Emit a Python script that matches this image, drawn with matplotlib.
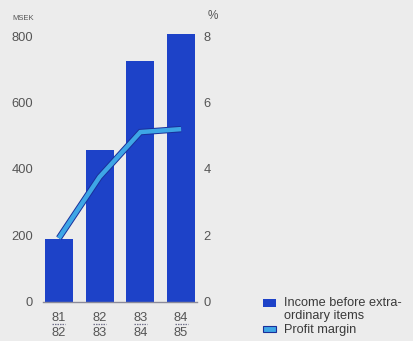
import matplotlib
matplotlib.use("Agg")
import matplotlib.pyplot as plt
import matplotlib.patheffects as pe
from matplotlib.patches import Rectangle
from matplotlib.transforms import offset_copy

plt.rcParams["font.family"] = ["Liberation Sans", "DejaVu Sans"]

# Fiscal years and results
years_top = ["81", "82", "83", "84"]
years_bottom = ["82", "83", "84", "85"]
income_msek = [190, 457, 725, 806]        # Income before extraordinary items, MSEK
profit_margin = [1.92, 3.76, 5.11, 5.20]  # Profit margin, %

left_ticks = [0, 200, 400, 600, 800]
right_ticks = [0, 2, 4, 6, 8]

BG = "#ececec"
BAR = "#1d42c8"
LINE = "#3ea6e6"
EDGE = "#1a2f9a"
TXT = "#555555"

fig = plt.figure(figsize=(4.13, 3.41), dpi=100, facecolor=BG)
ax = fig.add_axes([0.104, 0.1144, 0.373, 0.780])
ax.set_facecolor(BG)

x = list(range(len(income_msek)))
ax.bar(x, income_msek, width=0.69, color=BAR, clip_on=False, zorder=2)
ax.set_xlim(-0.39, 3.39)
ax.set_ylim(0, 800)
ax.set_yticks(left_ticks)
ax.set_yticklabels([str(t) for t in left_ticks])
ax.tick_params(axis="y", length=0, pad=7, labelsize=9.3, labelcolor=TXT)
ax.set_xticks([])
for s in ["top", "right", "left"]:
    ax.spines[s].set_visible(False)
ax.spines["bottom"].set_color("#8a8a9a")
ax.spines["bottom"].set_linewidth(1.0)

# Two-line fiscal year labels with a rule between
rule_tf = offset_copy(ax.transData, fig=fig, x=0, y=-15.8, units="points")
for xi, a, b in zip(x, years_top, years_bottom):
    ax.annotate(a, (xi, 0), xytext=(0, -11.8), textcoords="offset points",
                ha="center", va="center", fontsize=9.3, color=TXT, annotation_clip=False)
    ax.annotate(b, (xi, 0), xytext=(0, -22.3), textcoords="offset points",
                ha="center", va="center", fontsize=9.3, color=TXT, annotation_clip=False)
    ax.plot([xi - 0.16, xi + 0.16], [0, 0], transform=rule_tf, clip_on=False,
            color="#70708a", lw=0.9, linestyle=(0, (1.2, 0.8)))

ax2 = ax.twinx()
ax2.set_ylim(0, 8)
ax2.set_yticks(right_ticks)
ax2.set_yticklabels([str(t) for t in right_ticks])
ax2.tick_params(axis="y", length=0, pad=4.5, labelsize=9.3, labelcolor=TXT)
for s in ["top", "right", "left", "bottom"]:
    ax2.spines[s].set_visible(False)
ax2.plot(x, profit_margin, color=LINE, lw=3.2, solid_capstyle="butt",
         solid_joinstyle="miter", zorder=3,
         path_effects=[pe.Stroke(linewidth=4.6, foreground=EDGE), pe.Normal()])

fig.text(0.029, 0.947, "MSEK", fontsize=5.5, color=TXT, ha="left", va="center")
fig.text(0.502, 0.952, "%", fontsize=8.5, color=TXT, ha="left", va="center")

# Legend
fig.patches.append(Rectangle((0.636, 0.0997), 0.033, 0.0235, transform=fig.transFigure,
                             facecolor=BAR, edgecolor="none"))
fig.text(0.688, 0.112, "Income before extra-", fontsize=9.2, color="#3a3a3a",
         ha="left", va="center")
fig.text(0.688, 0.072, "ordinary items", fontsize=9.2, color="#3a3a3a",
         ha="left", va="center")
fig.patches.append(Rectangle((0.636, 0.0264), 0.033, 0.0176, transform=fig.transFigure,
                             facecolor=LINE, edgecolor=EDGE, linewidth=0.8))
fig.text(0.688, 0.033, "Profit margin", fontsize=9.2, color="#3a3a3a",
         ha="left", va="center")

fig.savefig("out.png", dpi=100, facecolor=BG)
